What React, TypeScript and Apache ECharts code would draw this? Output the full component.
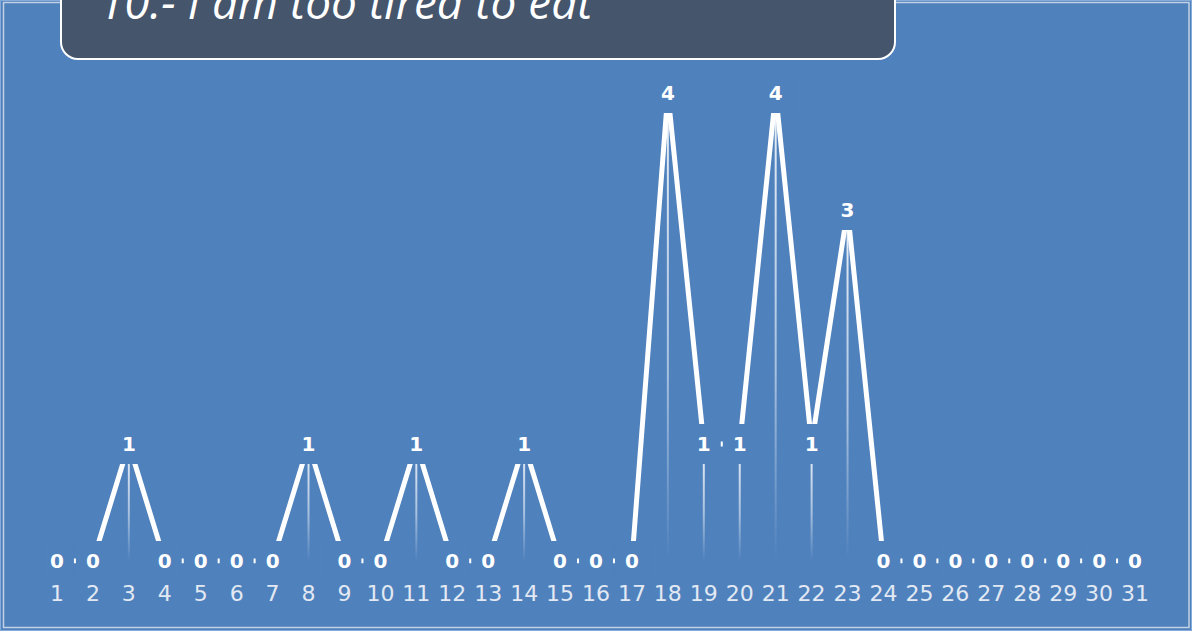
import React, { useEffect, useRef } from "react";
import * as echarts from "echarts";

const titleText = "10.- I am too tired to eat";
const days = [
  "1", "2", "3", "4", "5", "6", "7", "8", "9", "10",
  "11", "12", "13", "14", "15", "16", "17", "18", "19", "20",
  "21", "22", "23", "24", "25", "26", "27", "28", "29", "30", "31",
];
const values = [
  0, 0, 1, 0, 0, 0, 0, 1, 0, 0,
  1, 0, 0, 1, 0, 0, 0, 4, 1, 1,
  4, 1, 3, 0, 0, 0, 0, 0, 0, 0, 0,
];

const BG = "#4f81bd";

export default function App() {
  const ref = useRef<HTMLDivElement>(null);
  useEffect(() => {
    if (!ref.current) return;
    const chart = echarts.init(ref.current, null, { renderer: "svg" });
    chart.setOption({
      animation: false,
      backgroundColor: BG,
      grid: { left: 39, right: 39, top: 93, bottom: 70, containLabel: false },
      xAxis: {
        type: "category",
        data: days,
        boundaryGap: true,
        axisLine: { show: false },
        axisTick: { show: false },
        splitLine: { show: false },
        axisLabel: {
          interval: 0,
          color: "#e2e9f3",
          fontSize: 22,
          fontFamily: "DejaVu Sans",
          margin: 22,
          lineHeight: 20,
        },
      },
      yAxis: {
        type: "value",
        min: 0,
        max: 4,
        show: false,
        splitLine: { show: false },
      },
      series: [
        {
          type: "bar",
          data: values,
          barWidth: 2,
          z: 1,
          itemStyle: {
            color: new echarts.graphic.LinearGradient(0, 0, 0, 1, [
              { offset: 0, color: "rgba(255,255,255,0.9)" },
              { offset: 0.6, color: "rgba(255,255,255,0.5)" },
              { offset: 1, color: "rgba(255,255,255,0)" },
            ]),
          },
        },
        {
          type: "line",
          data: values,
          z: 3,
          symbol: "circle",
          symbolSize: 1,
          showSymbol: true,
          itemStyle: { color: "rgba(255,255,255,0)" },
          lineStyle: { color: "#ffffff", width: 5 },
          label: {
            show: true,
            position: "inside",
            color: "#ffffff",
            fontSize: 20,
            fontWeight: "bold",
            fontFamily: "DejaVu Sans",
            backgroundColor: BG,
            padding: [10, 10],
            lineHeight: 20,
          },
        },
      ],
      graphic: [
        {
          type: "rect",
          shape: { x: 0.5, y: 0.5, width: 1191, height: 630 },
          style: { fill: "none", stroke: "#86acdb", lineWidth: 1 },
          silent: true,
          z: 10,
        },
        {
          type: "rect",
          shape: { x: 3.5, y: 2.5, width: 1185.5, height: 625 },
          style: { fill: "none", stroke: "#c3d1e4", lineWidth: 1.5 },
          silent: true,
          z: 10,
        },
        {
          type: "rect",
          shape: { x: 61, y: -30, width: 834, height: 89, r: 17 },
          style: { fill: "#45556b", stroke: "#ffffff", lineWidth: 2 },
          z: 20,
        },
        {
          type: "text",
          x: 99,
          y: 24,
          z: 21,
          style: {
            text: titleText,
            fill: "#ffffff",
            font: 'italic 46px "Open Sans"',
            verticalAlign: "bottom",
            align: "left",
          },
        },
      ],
    });
    return () => chart.dispose();
  }, []);
  return (
    <div
      ref={ref}
      style={{ position: "absolute", left: 0, top: 0, width: 1192, height: 631 }}
    />
  );
}
